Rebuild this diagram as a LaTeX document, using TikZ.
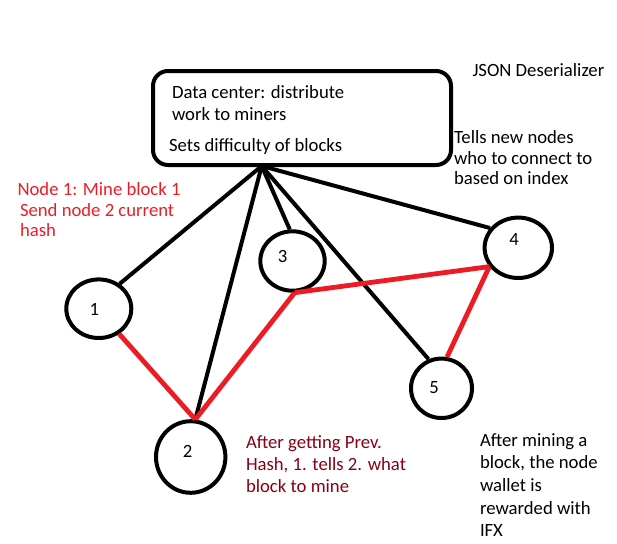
\documentclass[tikz,border=0pt]{standalone}
\usepackage{fontspec}
\setmainfont{Carlito}
\usetikzlibrary{shapes.geometric}
\definecolor{paintred}{RGB}{237,28,36}
\definecolor{darkred}{RGB}{136,0,21}

\begin{document}
\begin{tikzpicture}[x=1pt,y=-1pt,line width=4pt,
  ring/.style={draw=black,ellipse},
  txt/.style={anchor=base west,font=\fontsize{18.7}{23}\selectfont},
  num/.style={anchor=center,font=\fontsize{18.7}{23}\selectfont},
  work/.style={draw=black},
  hashlink/.style={draw=paintred,line width=4.8pt}]
\tikzstyle{every node}+=[inner sep=0pt]
\useasboundingbox (0,0) rectangle (617,543);
% data center box
\node [draw=black,rounded corners=15pt,minimum width=298pt,minimum height=94pt] (dc) at (302,118) {};
\coordinate (hub) at (261.7,166);
\node [txt] (dc1) at (170,98.3) {Data center: distribute};
\node [txt] (dc2) at (170,120) {work to miners};
\node [txt] (dc3) at (167,151.7) {Sets difficulty of blocks};
\node [txt] (json) at (470.5,76.7) {JSON Deserializer};
\node [txt] (tell1) at (452,143) {Tells new nodes};
\node [txt] (tell2) at (452,164) {who to connect to};
\node [txt] (tell3) at (452,184.3) {based on index};
% miners
\node [ring,minimum width=65pt,minimum height=58.6pt] (n1) at (98.8,308.7) {};
\node [ring,minimum width=69.4pt,minimum height=71.6pt] (n2) at (190.7,457) {};
\node [ring,minimum width=64.4pt,minimum height=59.4pt] (n3) at (292.5,261) {};
\node [ring,minimum width=67.4pt,minimum height=60.4pt] (n4) at (518.3,247.8) {};
\node [ring,minimum width=61pt,minimum height=59.4pt] (n5) at (441.5,388.3) {};
\node [num] (l1) at (94.3,309.3) {1};
\node [num] (l2) at (187.7,451.7) {2};
\node [num] (l3) at (282.7,256) {3};
\node [num] (l4) at (514,239.3) {4};
\node [num] (l5) at (434,387.3) {5};
% links to the data center
\draw [work] (hub) -- (n1.50);
\draw [work] (hub) -- (n2.83);
\draw [work] (hub) -- (n3.95);
\draw [work] (hub) -- (n5.114);
\draw [work] (hub) -- (n4.145);
% hash passing
\draw [hashlink] (n1.-51) -- (n2.83);
\draw [hashlink] (n2.83) -- (n3.-86);
\draw [hashlink] (n3.-86) -- (n4.213);
\draw [hashlink] (n4.213) -- (n5.80);
% notes
\node [txt,text=paintred] (red1) at (15.5,195) {Node 1: Mine block 1};
\node [txt,text=paintred] (red2) at (18,216) {Send node 2 current};
\node [txt,text=paintred] (red3) at (18,236) {hash};
\node [txt,text=darkred] (prev1) at (244,448.3) {After getting Prev.};
\node [txt,text=darkred] (prev2) at (244,470) {Hash, 1. tells 2. what};
\node [txt,text=darkred] (prev3) at (244,492.7) {block to mine};
\node [txt] (ifx1) at (478,446.7) {After mining a};
\node [txt] (ifx2) at (478,468.3) {block, the node};
\node [txt] (ifx3) at (478,491) {wallet is};
\node [txt] (ifx4) at (478,514) {rewarded with};
\node [txt] (ifx5) at (478,536.7) {IFX};
\end{tikzpicture}
\end{document}
